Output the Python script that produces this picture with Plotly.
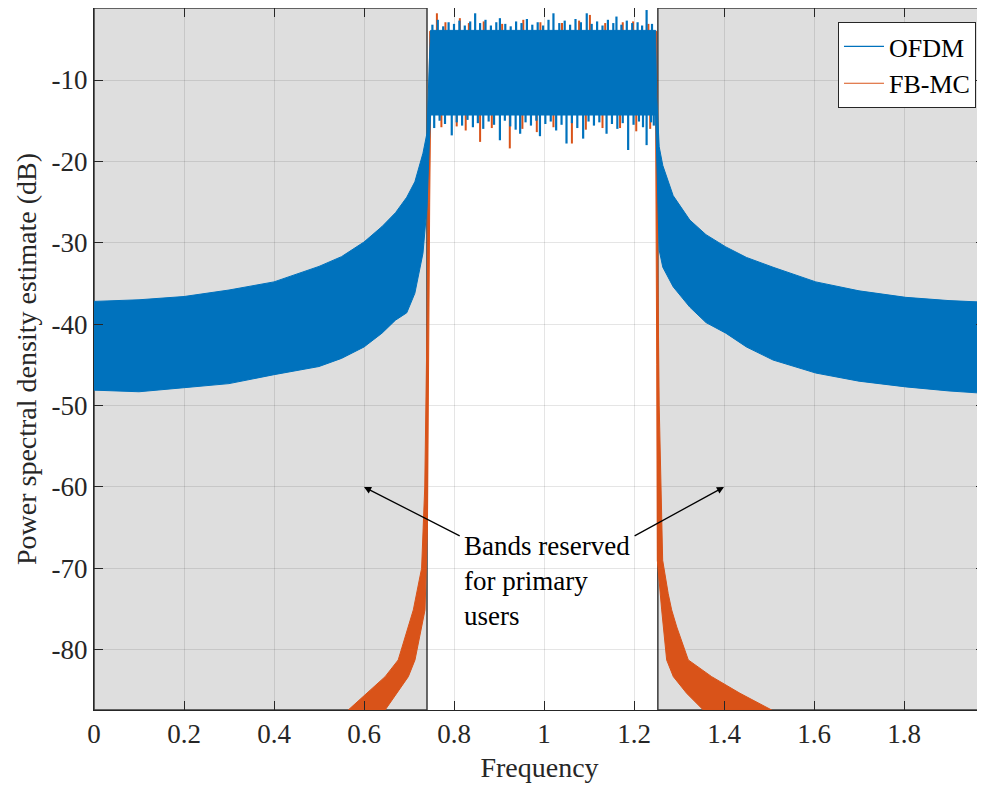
import plotly.graph_objects as go

# ---------------- data ----------------
# OFDM PSD envelope (upper / lower extremes of the dense oscillation), dB
OFDM_F = [0.0, 0.1, 0.2, 0.3, 0.4, 0.5, 0.55, 0.6, 0.64, 0.67, 0.695, 0.713, 0.731, 0.740, 0.745, 0.748,
          0.80, 0.90, 1.00, 1.10, 1.20, 1.248,
          1.2505, 1.256, 1.264, 1.287, 1.324, 1.36, 1.404, 1.45, 1.509, 1.604, 1.70, 1.804, 1.90, 1.98]
OFDM_UP = [-37.2, -37.0, -36.6, -35.8, -34.8, -32.9, -31.7, -29.9, -28.0, -26.3, -24.4, -22.5, -19.0, -16.5, -8.0, -3.9,
           -3.9, -3.9, -3.9, -3.9, -3.9, -3.9,
           -12.0, -18.2, -20.5, -24.2, -27.2, -29.0, -30.5, -31.8, -33.0, -34.8, -35.9, -36.7, -37.1, -37.3]
OFDM_LO = [-48.1, -48.3, -47.8, -47.3, -46.2, -45.2, -44.2, -42.8, -41.1, -39.5, -38.6, -36.2, -31.3, -25.6, -18.0, -14.3,
           -14.3, -14.3, -14.3, -14.3, -14.3, -14.3,
           -19.8, -30.9, -33.0, -35.4, -37.9, -39.8, -41.1, -42.8, -44.4, -46.0, -47.0, -47.7, -48.2, -48.5]

# FB-MC PSD envelope
FBMC_UP_F = [0.565, 0.606, 0.647, 0.676, 0.7096, 0.728, 0.735, 0.740, 0.743, 0.746,
             0.80, 0.90, 1.00, 1.10, 1.20, 1.250,
             1.2515, 1.256, 1.2637, 1.276, 1.2837, 1.295, 1.3207, 1.3726, 1.4356, 1.5059]
FBMC_UP = [-87.4, -85.35, -83.3, -81.25, -75.1, -70.0, -60.0, -40.0, -20.0, -4.0,
           -4.0, -4.0, -4.0, -4.0, -4.0, -4.0,
           -25.0, -50.0, -69.0, -73.1, -75.1, -77.2, -81.25, -83.3, -85.35, -87.4]
FBMC_LO_F = [0.647, 0.6726, 0.6985, 0.7133, 0.7356, 0.741, 0.744, 0.746, 0.748,
             0.80, 0.90, 1.00, 1.10, 1.20, 1.248,
             1.2505, 1.2518, 1.2615, 1.2726, 1.2874, 1.317, 1.354]
FBMC_LO = [-87.4, -85.35, -83.3, -81.25, -75.1, -65.0, -45.0, -25.0, -14.0,
           -14.0, -14.0, -14.0, -14.0, -14.0, -14.0,
           -45.0, -69.0, -75.1, -81.25, -83.3, -85.35, -87.4]

# in-band extreme spikes (frequency, dB)
OFDM_PEAK_F = [0.752, 0.764, 0.776, 0.788, 0.800, 0.812, 0.824, 0.836, 0.847, 0.858,
               0.870, 0.882, 0.894, 0.902, 0.914, 0.926, 0.938, 0.950, 0.962, 0.974,
               0.986, 0.998, 1.010, 1.021, 1.034, 1.046, 1.058, 1.070, 1.082, 1.095,
               1.106, 1.118, 1.130, 1.142, 1.154, 1.161, 1.172, 1.184, 1.196, 1.208,
               1.218, 1.228, 1.240]
OFDM_PEAK = [-3.2, -2.6, -3.4, -2.9, -3.1, -2.7, -3.3, -2.8, -1.8, -3.0,
             -2.6, -3.3, -2.9, -2.4, -3.1, -3.4, -2.8, -3.0, -2.5, -3.2,
             -2.9, -3.3, -2.6, -1.8, -3.0, -2.7, -3.2, -2.5, -2.9, -1.8,
             -3.1, -2.8, -3.3, -2.6, -3.0, -2.2, -3.2, -2.7, -3.0, -2.9,
             -3.3, -1.4, -3.1]
OFDM_DIP_F = [0.756, 0.768, 0.780, 0.795, 0.806, 0.818, 0.830, 0.842, 0.853, 0.865,
              0.877, 0.889, 0.902, 0.913, 0.925, 0.937, 0.947, 0.959, 0.971, 0.983,
              0.991, 1.003, 1.015, 1.027, 1.039, 1.050, 1.062, 1.074, 1.087, 1.099,
              1.111, 1.123, 1.139, 1.151, 1.163, 1.175, 1.187, 1.199, 1.211, 1.220,
              1.228, 1.238, 1.244]
OFDM_DIP = [-15.9, -15.0, -15.4, -16.8, -15.2, -15.6, -14.9, -15.8, -15.3, -16.0,
            -15.1, -15.5, -17.4, -15.0, -15.7, -16.1, -16.6, -15.2, -15.6, -15.0,
            -16.9, -15.4, -15.1, -16.2, -15.5, -17.8, -15.3, -15.9, -17.2, -15.1,
            -15.6, -15.2, -16.6, -15.4, -16.0, -15.3, -18.6, -15.5, -15.1, -15.8,
            -18.0, -15.2, -15.6]
FBMC_PEAK_F = [0.762, 0.781, 0.813, 0.833, 0.866, 0.907, 0.954, 0.992, 1.040, 1.078,
               1.102, 1.136, 1.175, 1.198, 1.232]
FBMC_PEAK = [-1.8, -2.9, -2.4, -3.0, -2.8, -3.1, -2.6, -2.9, -3.0, -2.7,
             -2.0, -3.0, -2.9, -2.8, -3.1]
FBMC_DIP_F = [0.772, 0.806, 0.826, 0.858, 0.884, 0.924, 0.952, 0.984, 1.021, 1.062,
              1.093, 1.130, 1.169, 1.205, 1.236]
FBMC_DIP = [-15.8, -15.7, -16.2, -17.6, -15.9, -18.4, -16.0, -16.4, -15.8, -17.8,
            -16.1, -15.9, -15.9, -16.3, -16.0]
OFDM_INBAND_TOP, OFDM_INBAND_BOT = -4.2, -14.0
FBMC_INBAND_TOP, FBMC_INBAND_BOT = -4.2, -14.0

RESERVED_BANDS = [(0.0, 0.74), (1.253, 1.98)]
X_RANGE = [0, 1.98]
Y_RANGE = [-87.4, -1.15]
X_TICKS = [0, 0.2, 0.4, 0.6, 0.8, 1, 1.2, 1.4, 1.6, 1.8]
X_TICKTEXT = ["0", "0.2", "0.4", "0.6", "0.8", "1", "1.2", "1.4", "1.6", "1.8"]
Y_TICKS = [-80, -70, -60, -50, -40, -30, -20, -10]
Y_TICKTEXT = ["-80", "-70", "-60", "-50", "-40", "-30", "-20", "-10"]

ANNOT_TEXT = "Bands reserved<br>for primary<br>users"
ANNOT_POS = (0.818, -71.6)
ARROW_HEADS = [(0.6, -60.0), (1.4, -60.0)]
ARROW_TAILS = [(0.816, -66.1), (1.198, -66.1)]

BLUE = "#0072BD"
ORANGE = "#D95319"
FONT = "Liberation Serif"
TXT = "#262626"

fig = go.Figure()


def polygon(fu, yu, fl, yl):
    return list(fu) + list(fl)[::-1], list(yu) + list(yl)[::-1]


def spikes(fx, fy, base):
    xs, ys = [], []
    for a, b in zip(fx, fy):
        xs += [a, a, None]
        ys += [base, b, None]
    return xs, ys


# FB-MC
px, py = polygon(FBMC_UP_F, FBMC_UP, FBMC_LO_F, FBMC_LO)
fig.add_trace(go.Scatter(x=px, y=py, fill="toself", fillcolor=ORANGE, mode="lines",
                         line=dict(color=ORANGE, width=1), showlegend=False, hoverinfo="skip"))
for fx, fy, base in [(FBMC_DIP_F, FBMC_DIP, FBMC_INBAND_BOT), (FBMC_PEAK_F, FBMC_PEAK, FBMC_INBAND_TOP)]:
    sx, sy = spikes(fx, fy, base)
    fig.add_trace(go.Scatter(x=sx, y=sy, mode="lines", line=dict(color=ORANGE, width=2),
                             showlegend=False, hoverinfo="skip"))

# OFDM
px, py = polygon(OFDM_F, OFDM_UP, OFDM_F, OFDM_LO)
fig.add_trace(go.Scatter(x=px, y=py, fill="toself", fillcolor=BLUE, mode="lines",
                         line=dict(color=BLUE, width=1), showlegend=False, hoverinfo="skip"))
for fx, fy, base in [(OFDM_DIP_F, OFDM_DIP, OFDM_INBAND_BOT), (OFDM_PEAK_F, OFDM_PEAK, OFDM_INBAND_TOP)]:
    sx, sy = spikes(fx, fy, base)
    fig.add_trace(go.Scatter(x=sx, y=sy, mode="lines", line=dict(color=BLUE, width=2.2),
                             showlegend=False, hoverinfo="skip"))

# legend entries
fig.add_trace(go.Scatter(x=[None], y=[None], mode="lines", name="OFDM", line=dict(color=BLUE, width=1.2)))
fig.add_trace(go.Scatter(x=[None], y=[None], mode="lines", name="FB-MC", line=dict(color=ORANGE, width=1.2)))

# reserved bands
for x0, x1 in RESERVED_BANDS:
    fig.add_shape(type="rect", xref="x", yref="y", x0=x0, x1=x1, y0=Y_RANGE[0], y1=Y_RANGE[1],
                  fillcolor="#dedede", line=dict(color="#3a3a3a", width=1.5), layer="below")

# annotation
fig.add_annotation(x=ANNOT_POS[0], y=ANNOT_POS[1], text=ANNOT_TEXT, showarrow=False,
                   xanchor="left", yanchor="middle", align="left",
                   font=dict(family=FONT, size=27, color="black"))
for (hx, hy), (tx, ty) in zip(ARROW_HEADS, ARROW_TAILS):
    fig.add_annotation(x=hx, y=hy, ax=tx, ay=ty, axref="x", ayref="y", text="",
                       showarrow=True, arrowhead=2, arrowsize=1.1, arrowwidth=1.3, arrowcolor="black")

axis_common = dict(showline=True, linecolor=TXT, linewidth=1, mirror="ticks", ticks="inside",
                   ticklen=9, tickcolor=TXT, showgrid=True, gridcolor="rgba(0,0,0,0.10)",
                   gridwidth=1, zeroline=False, automargin=False,
                   tickfont=dict(family=FONT, size=27, color=TXT))

fig.update_xaxes(range=X_RANGE, tickvals=X_TICKS, ticktext=X_TICKTEXT,
                 title=dict(text="Frequency", font=dict(family=FONT, size=28, color=TXT), standoff=8),
                 **axis_common)
fig.update_yaxes(range=Y_RANGE, tickvals=Y_TICKS, ticktext=Y_TICKTEXT,
                 title=dict(text="Power spectral density estimate (dB)",
                            font=dict(family=FONT, size=28, color=TXT), standoff=6),
                 **axis_common)

# the page body adds an 8 px margin, so the figure is sized to the remaining window
fig.update_layout(
    width=977, height=779,
    margin=dict(l=86, r=0, t=0, b=77, autoexpand=False),
    paper_bgcolor="white", plot_bgcolor="white",
    font=dict(family=FONT, color=TXT),
    legend=dict(x=0.835, y=0.98, xanchor="left", yanchor="top", bgcolor="white",
                bordercolor=TXT, borderwidth=1, font=dict(family=FONT, size=26, color="black"),
                itemwidth=40, tracegroupgap=0),
    showlegend=True,
)

fig.write_html("out.html")
